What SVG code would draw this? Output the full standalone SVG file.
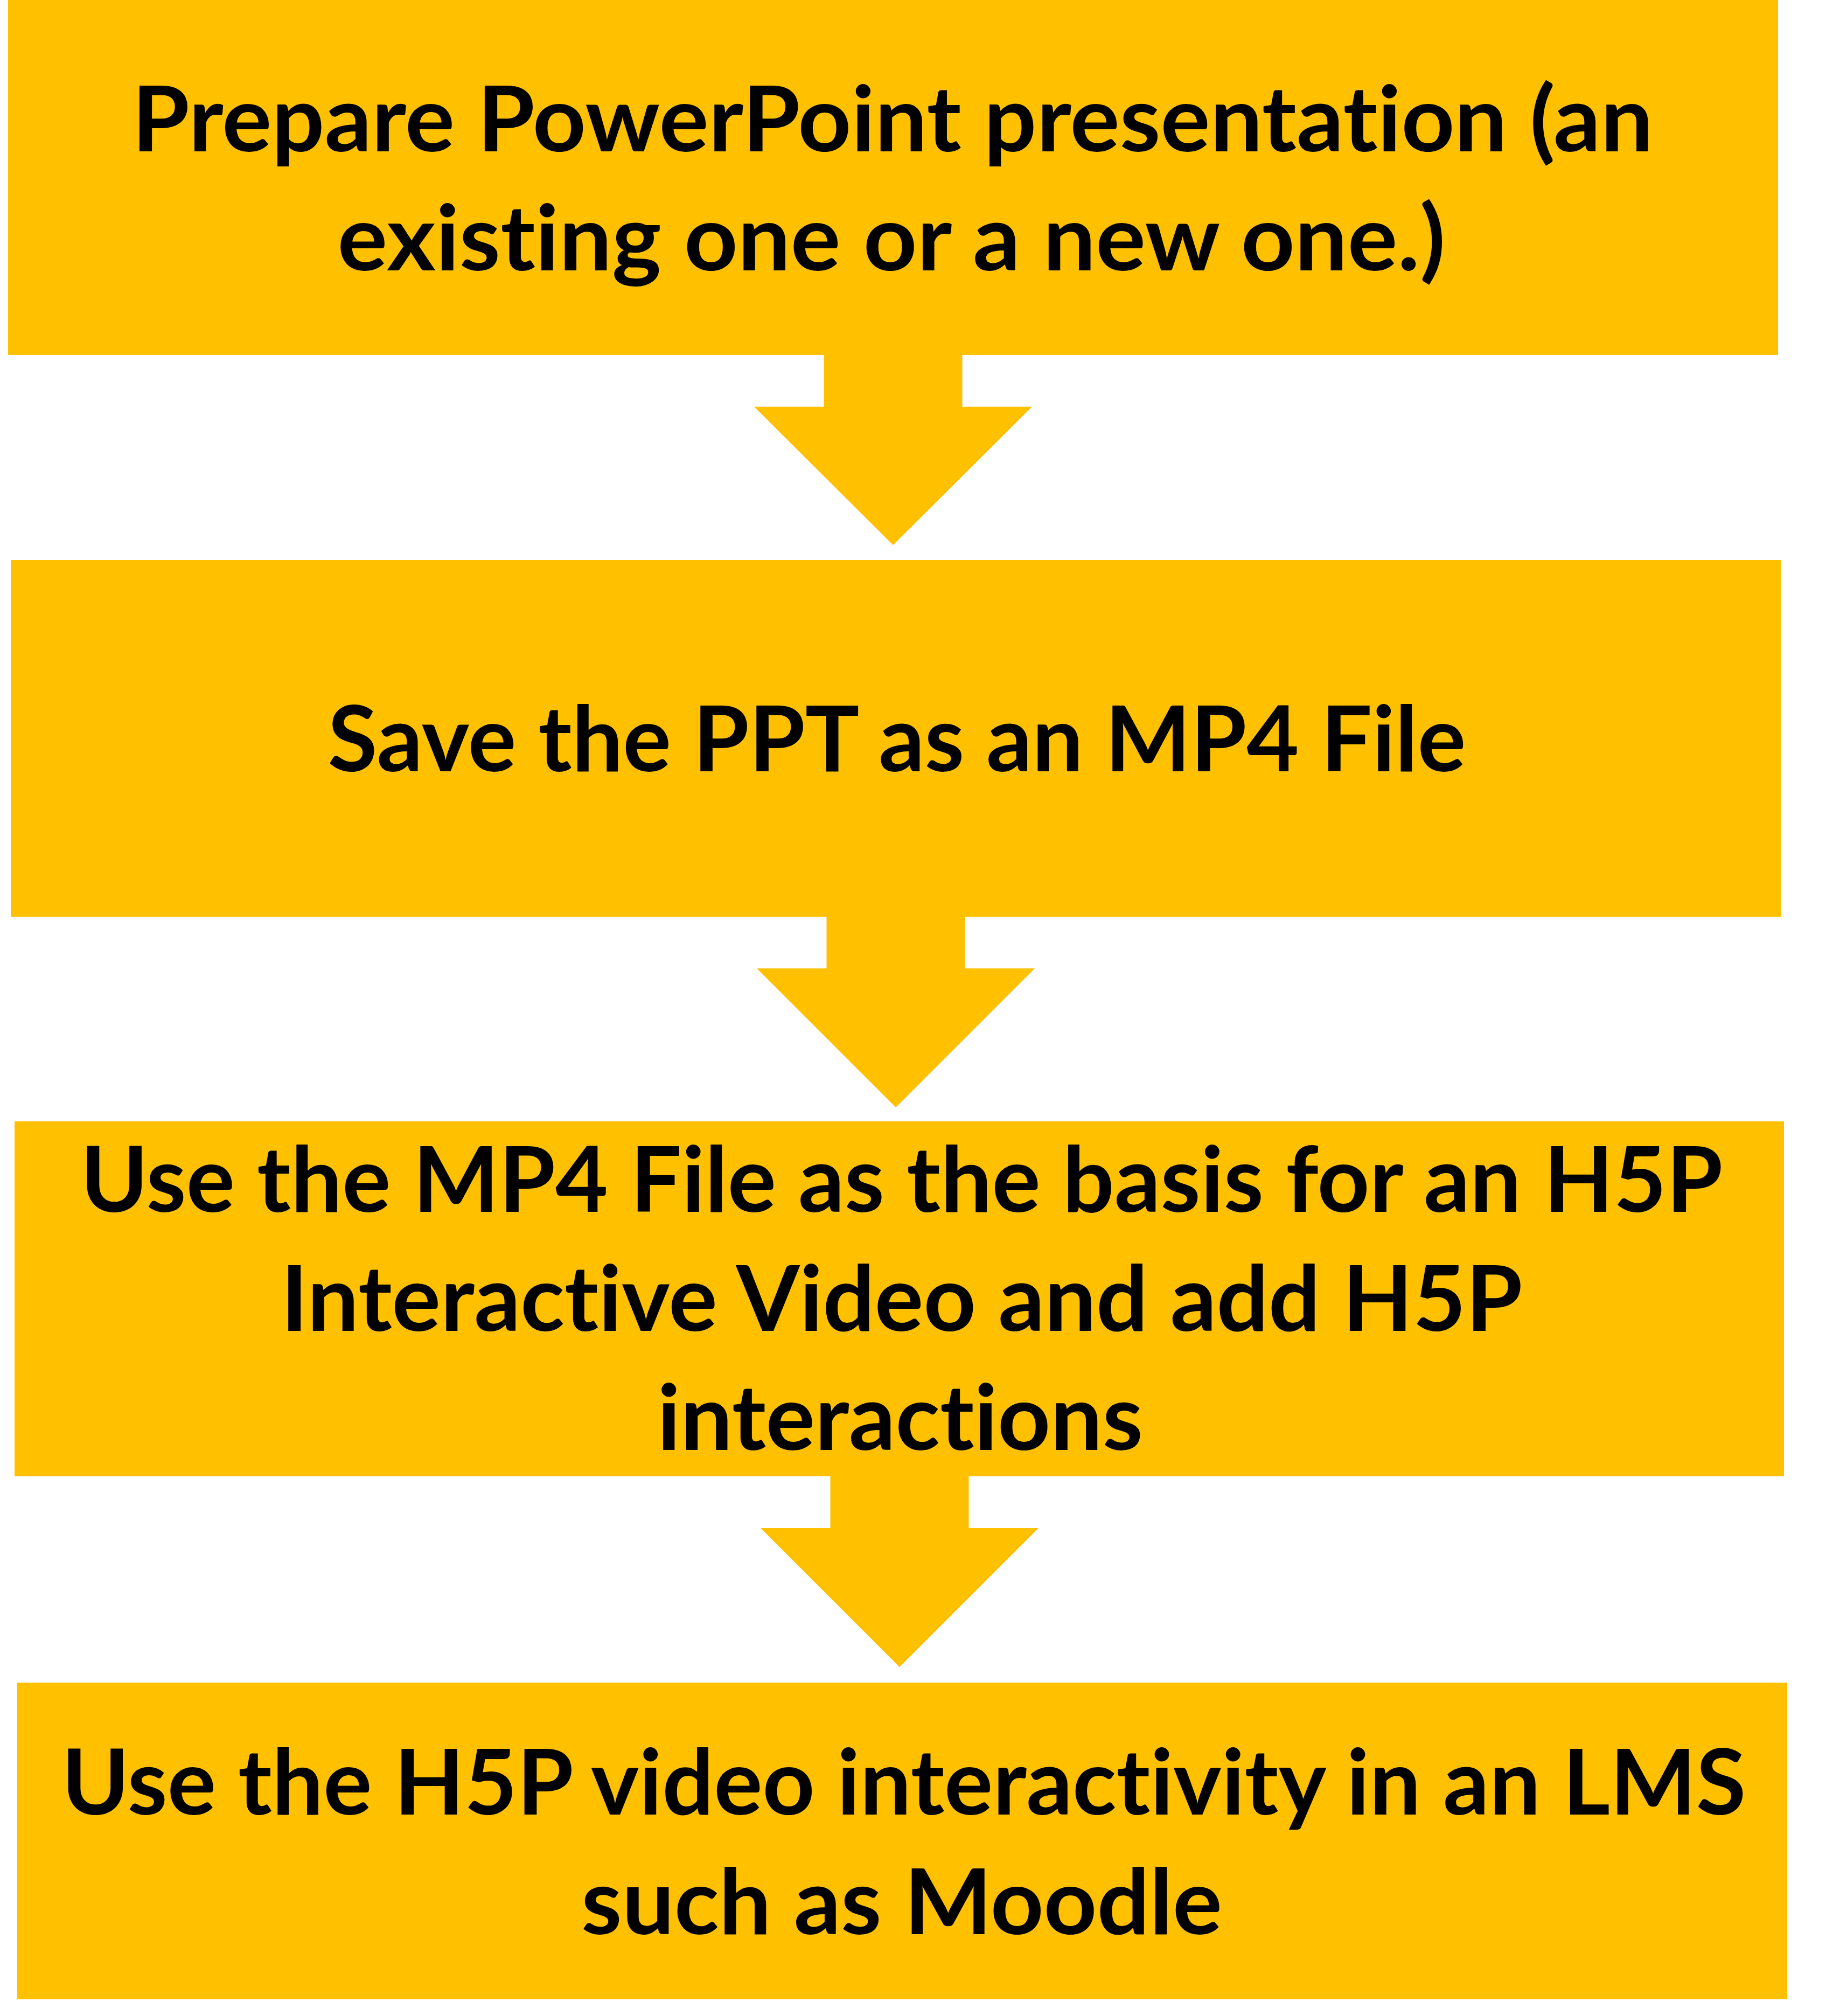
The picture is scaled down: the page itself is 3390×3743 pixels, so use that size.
<svg xmlns="http://www.w3.org/2000/svg" width="3390" height="3743" viewBox="0 0 3390 3743">
<style>
.box{fill:#FFC000;}
.arrow{fill:#FFC000;}
.lbl{font-family:"Lato","Open Sans","Liberation Sans",sans-serif;font-weight:700;font-size:168px;fill:#000000;text-anchor:middle;font-variant-ligatures:none;font-feature-settings:"liga" 0,"clig" 0,"dlig" 0;}
</style>
<rect x="0" y="0" width="3390" height="3743" fill="#FFFFFF"/>
<g id="connectors">
<polygon class="arrow" points="1529.5,655 1786.5,655 1786.5,755 1916,755 1658,1012 1400,755 1529.5,755"/>
<polygon class="arrow" points="1534.5,1698 1791.5,1698 1791.5,1798 1921,1798 1663,2056 1405,1798 1534.5,1798"/>
<polygon class="arrow" points="1541.5,2737 1798.5,2737 1798.5,2837 1928,2837 1670,3095 1412,2837 1541.5,2837"/>
</g>
<g id="node1">
<rect class="box" x="15" y="0" width="3286" height="659"/>
<text class="lbl" x="1657" y="281" textLength="2824" lengthAdjust="spacingAndGlyphs">Prepare PowerPoint presentation (an</text>
<text class="lbl" x="1655" y="502" textLength="2057" lengthAdjust="spacingAndGlyphs">existing one or a new one.)</text>
</g>
<g id="node2">
<rect class="box" x="20" y="1040" width="3286" height="662"/>
<text class="lbl" x="1665" y="1432" textLength="2113" lengthAdjust="spacingAndGlyphs">Save the PPT as an MP4 File</text>
</g>
<g id="node3">
<rect class="box" x="27" y="2082" width="3285" height="659"/>
<text class="lbl" x="1674" y="2250" textLength="3049" lengthAdjust="spacingAndGlyphs">Use the MP4 File as the basis for an H5P</text>
<text class="lbl" x="1674" y="2471" textLength="2305" lengthAdjust="spacingAndGlyphs">Interactive Video and add H5P</text>
<text class="lbl" x="1671" y="2692" textLength="902" lengthAdjust="spacingAndGlyphs">interactions</text>
</g>
<g id="node4">
<rect class="box" x="32" y="3124" width="3286" height="588"/>
<text class="lbl" x="1678" y="3369" textLength="3127" lengthAdjust="spacingAndGlyphs">Use the H5P video interactivity in an LMS</text>
<text class="lbl" x="1674" y="3591" textLength="1190" lengthAdjust="spacingAndGlyphs">such as Moodle</text>
</g>
</svg>
